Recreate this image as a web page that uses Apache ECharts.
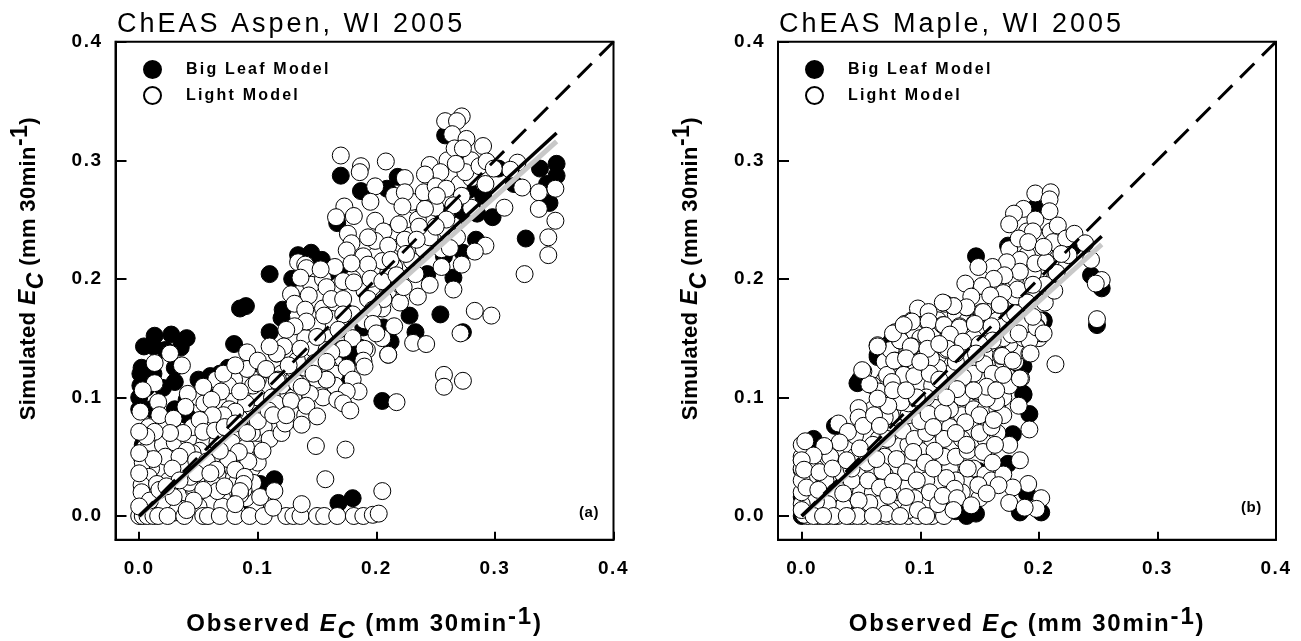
<!DOCTYPE html>
<html>
<head>
<meta charset="UTF-8">
<title>ChEAS Aspen and Maple, WI 2005</title>
<script src="https://cdn.jsdelivr.net/npm/echarts@6/dist/echarts.min.js"></script>
<style>
* { margin: 0; padding: 0; }
body { background: #fff; }
#main { width: 1301px; height: 641px; }
</style>
</head>
<body>
<div id="main"></div>
<script>
var tickValues = [0, 0.1, 0.2, 0.3, 0.4];
var seriesNames = ['Big Leaf Model', 'Light Model'];
var titleAspen = 'ChEAS Aspen, WI 2005';
var titleMaple = 'ChEAS Maple, WI 2005';

// 1:1 line and the two model fits, [observed, simulated]
var oneToOne = [[0, 0], [0.4, 0.4]];
var fitBigAspen = [[0, 0], [0.352, 0.323]];
var fitLightAspen = [[0, 0], [0.352, 0.316]];
var fitBigMaple = [[0, 0], [0.253, 0.236]];
var fitLightMaple = [[0, 0], [0.253, 0.229]];

// values
var bigLeafAspen = [[0,.09],[0,.1],[.001,.11],[.001,.12],[.002,.125],[.004,.143],[.012,.143],[.013,.152],[.027,.153],[.04,.15],[.022,.14],[.035,.142],[.03,.125],[.012,.12],[.006,.108],[.02,.108],[.03,.113],[.04,.098],[.05,.115],[.06,.118],[.068,.12],[.075,.125],[.08,.145],[.085,.175],[.09,.177],[.075,.09],[.06,.1],[.05,.08],[.01,.09],[.002,.07],[.002,.05],[.003,.06],[.03,.09],[.04,.085],
[.102,.027],[.114,.031],[.095,.01],[.168,.011],[.18,.015],[.205,.097],[.11,.204],[.17,.287],[.187,.274],[.209,.276],[.218,.286],[.167,.247],[.134,.22],[.145,.222],[.154,.216],[.129,.2],[.159,.205],[.172,.206],[.121,.174],[.12,.167],[.11,.155],[.254,.17],[.228,.169],[.233,.155],[.273,.155],[.212,.147],[.178,.134],[.169,.114],[.243,.204],[.265,.201],[.257,.219],[.273,.222],[.284,.233],[.298,.252],[.326,.234],[.346,.264],[.338,.293],[.352,.297],[.352,.287],[.344,.28],[.285,.255],[.273,.255],[.29,.27],[.278,.275],[.258,.321],[.273,.302],[.303,.293],[.316,.28],[.271,.277],[.256,.255],[.206,.159],[.189,.159],[.186,.142]];

var lightAspen = [[.01,.055],[.018,.04],[.03,.045],[.04,.04],[.045,.06],[.06,.05],[.07,.045],[.08,.045],[.09,.05],[.095,.04],[.075,.02],[.08,.015],[.07,.015],[.055,.015],[.04,.012],[.03,.02],[.02,.02],[.01,.015],[.006,.008],[.012,.006],[.02,.005],[.03,.003],[.005,.025],[.005,.035],[.005,.058],[.015,.065],[.025,.055],[.035,.06],[.048,.07],[.06,.068],[.07,.07],[.08,.07],[.07,.095],[.08,.1],[.09,.085],[.1,.07],[.105,.075],[.11,.065],[.125,.1],[.105,.11],[.09,.115],[.08,.115],[.065,.115],[.05,.1],[.12,.12],[.13,.115],[.14,.125],[.15,.13],[.16,.125],[.14,.15],[.15,.16],[.16,.15],[.17,.15],[.18,.15],[.155,.175],[.165,.18],[.18,.17],[.19,.165],[.145,.195],[.155,.2],[.165,.21],[.18,.2],[.19,.19],[.2,.19],[.21,.19],[.205,.175],[.215,.21],[.2,.22],[.22,.23],[.23,.24],[.24,.26],[.25,.26],[.255,.235],[.265,.245],[.27,.28],[.28,.3],
[.008,.058],[.02,.06],[.03,.062],[.042,.064],[.055,.062],[.066,.062],[.078,.062],[.09,.058],[.1,.045],[.006,.048],[.022,.05],[.038,.042],[.05,.04],[.056,.03],[.072,.038],[.078,.03],[.092,.046],[.096,.028],[.098,.01],[.09,.015],[.06,.01],[.07,.008],[.05,.008],[.03,.008],[.02,.012],[.012,.025],[.025,.03],[.01,.04],[.038,.02],[.046,.022],[.066,.035],[.052,.027],[.048,.03],[.045,.025],[.042,.028],[.082,.028],[.088,.022],[.085,.018],[.095,.07],[.1,.08],[.085,.082],[.076,.09],[.06,.078],[.045,.075],[.03,.072],[.02,.075],[.008,.075],[.1,.1],[.112,.1],[.12,.11],[.13,.1],[.09,.095],[.1,.115],[.055,.095],[.075,.11],[.12,.07],[.13,.085],[.115,.095],[.14,.085],[.155,.1],[.15,.115],[.165,.12],[.175,.125],[.18,.115],[.185,.105],[.165,.11],[.175,.105],[.205,.15],[.215,.16],[.22,.18],[.235,.185],[.245,.195],[.255,.21],[.24,.225],[.23,.215],[.21,.205],[.22,.195],[.205,.215],[.215,.24],[.225,.25],[.235,.25],[.245,.235],[.255,.225],[.26,.24],[.23,.265],[.28,.285],[.275,.29],[.215,.27],[.26,.3],[.28,.26],
[0,0],[.003,0],[.007,0],[.012,0],[.016,0],[.024,0],[.038,0],[.054,0],[.058,0],[.068,0],[.081,0],[.093,0],[.105,0],[.124,0],[.13,0],[.136,0],[.15,0],[.156,0],[.167,0],[.181,0],[.189,0],[.197,.001],[.202,.002],
[.026,.137],[.036,.127],[.013,.129],[.013,.112],[.003,.106],[.016,.096],[.001,.088],[.017,.085],[.029,.082],[.041,.103],[.054,.109],[.069,.105],[.061,.098],[.071,.12],[.091,.138],[.106,.124],[.091,.124],[.116,.137],[.081,.127],[.096,.11],[.085,.105],[.081,.088],[.071,.085],[.062,.085],[.051,.081],[.039,.092],[.037,.07],[.026,.07],[.013,.071],[.006,.067],[0,.071],[.054,.071],[.064,.072],[.072,.075],[.081,.078],[.091,.07],[.109,.089],[.117,.115],[.13,.124],[.138,.134],[.147,.141],[.158,.115],[.147,.123],[.133,.112],[.144,.103],[.128,.097],[.141,.093],[.167,.098],[.172,.095],[.178,.089],[.15,.084],[.137,.077],[.123,.078],[.113,.085],[.124,.085],[.171,.141],[.189,.13],[.192,.14],[.21,.136],[.217,.096],[.158,.14],[.133,.131],
[.104,.055],[.084,.054],[.075,.048],[.062,.051],[.051,.055],[.045,.053],[.04,.055],[.034,.05],[.048,.047],[.057,.046],[.068,.055],[.003,.045],[.012,.048],[0,.053],[.028,.04],[.008,.033],[.002,.026],[.002,.02],[.015,.027],[0,.036],[.043,.033],[.048,.036],[.081,.039],[.089,.033],[.088,.027],[.065,.039],[.062,.027],[.066,.021],[.054,.022],[.046,.013],[.034,.03],[.029,.016],[.04,.005],[.072,.025],[.085,.021],[.102,.016],[.114,.021],[.113,.007],[.081,.01],[.137,.01],[.009,.013],[0,.008],[.149,.059],[.174,.056],[.157,.031],[.205,.021],[.017,.022],[.023,.025],[.06,.036],
[.272,.337],[.258,.333],[.268,.333],[.264,.322],[.276,.318],[.266,.31],[.29,.312],[.273,.31],[.17,.304],[.187,.295],[.186,.29],[.208,.299],[.245,.296],[.254,.29],[.241,.288],[.267,.297],[.287,.295],[.319,.298],[.313,.292],[.293,.299],[.299,.293],[.224,.285],[.199,.278],[.224,.273],[.24,.273],[.25,.278],[.259,.276],[.292,.28],[.323,.277],[.337,.273],[.351,.276],[.195,.265],[.173,.261],[.166,.252],[.181,.253],[.222,.261],[.241,.259],[.251,.27],[.272,.27],[.265,.262],[.308,.26],[.337,.259],[.351,.249],[.199,.249],[.219,.246],[.236,.244],[.259,.25],[.25,.244],[.206,.24],[.176,.238],[.179,.23],[.199,.232],[.193,.235],[.21,.228],[.224,.233],[.234,.233],[.268,.235],[.262,.226],[.292,.228],[.283,.223],[.345,.235],[.345,.22],[.175,.224],[.189,.219],[.193,.212],[.179,.213],[.212,.216],[.225,.221],[.272,.212],[.134,.214],[.14,.212],[.141,.209],[.153,.208],[.136,.201],[.172,.198],[.181,.197],[.195,.2],[.205,.198],[.217,.203],[.233,.204],[.265,.191],[.325,.204],[.223,.193],[.158,.193],[.143,.186],[.128,.187],[.162,.183],[.172,.183],[.193,.183],[.206,.183],[.131,.179],[.14,.174],[.156,.169],[.172,.17],[.197,.174],[.283,.173],[.297,.169],[.271,.154],[.141,.164],[.131,.16],[.124,.157],[.15,.151],[.168,.157],[.197,.162],[.2,.154],[.19,.141],[.172,.141],[.122,.143],[.116,.137],[.11,.143],[.1,.131],[.107,.124],[.126,.127],[.136,.141],[.162,.138],[.21,.136],[.231,.146],[.242,.145],[.189,.131],[.19,.126],[.257,.119],[.273,.114],[.257,.109],[.148,.129],[.158,.13],[.158,.115],[.147,.12],[.137,.109],[.116,.114],[.099,.112]];

var bigLeafMaple = [[.147,.219],[.198,.259],[.174,.228],[.064,.134],[.074,.145],[.204,.165],[.187,.126],[.064,.136],[.049,.115],[.076,.148],[.204,.164],[.187,.103],[.184,.127],[.197,.26],[.244,.203],[.253,.192],[.249,.161],[.229,.227],[.047,.112],[.028,.076],[.01,.065],[.149,.038],[.174,.044],[.192,.086],[.187,.102],[.178,.069],[.147,.002],[.139,0],[.184,.003],[.202,.003],[.19,.019],[.159,.088],[0,0],[0,.039],[0,.016],[0,.047],[.12,.004],[.13,.004]];

var lightMaple = [[.03,.012],[.04,.02],[.05,.02],[.06,.02],[.07,.035],[.08,.02],[.09,.025],[.1,.04],[.105,.03],[.115,.045],[.125,.04],[.135,.02],[.145,.04],[.155,.035],[.16,.03],[.17,.035],[.11,.06],[.1,.055],[.09,.045],[.08,.06],[.07,.05],[.055,.055],[.045,.05],[.03,.05],[.02,.045],[.035,.035],[.05,.035],[.06,.04],[.08,.075],[.09,.085],[.075,.07],[.065,.065],[.105,.085],[.115,.08],[.125,.075],[.135,.065],[.145,.06],[.155,.065],[.135,.085],[.145,.09],[.155,.09],[.165,.09],[.17,.1],[.175,.11],[.15,.115],[.16,.125],[.17,.13],[.18,.13],[.185,.14],[.175,.145],[.165,.14],[.155,.135],[.14,.135],[.125,.13],[.115,.135],[.105,.125],[.095,.13],[.09,.115],[.1,.11],[.115,.105],[.125,.105],[.09,.095],[.075,.1],[.07,.115],[.06,.11],[.07,.13],[.075,.14],[.095,.155],[.11,.155],[.13,.17],[.14,.165],[.155,.155],[.165,.165],[.17,.18],[.18,.185],[.19,.195],[.2,.2],[.21,.215],[.16,.195],[.15,.19],[.175,.225],[.19,.24],[.2,.235],[.21,.24],[.215,.225],[.17,.205],[.18,.21],[.19,.22],[.2,.205],[.19,.165],[.17,.16],[.18,.155],[.2,.165],
[.005,0],[.014,0],[.022,0],[.03,0],[.042,0],[.052,0],[.065,0],[.072,0],[.078,0],[.09,0],[.098,0],[.11,0],[.12,0],
[.02,.03],[.028,.02],[.042,.03],[.012,.04],[.024,.05],[.042,.04],[.055,.045],[.068,.038],[.08,.048],[.09,.06],[.072,.065],[.06,.06],[.045,.068],[.085,.072],[.095,.065],[.105,.07],[.1,.08],[.12,.065],[.12,.05],[.13,.05],[.14,.04],[.15,.015],[.108,.02],[.115,.01],[.095,.015],[.09,.005],[.075,.005],[.065,.01],[.05,.005],[.035,.008],[.022,.01],[.012,.012],[.006,.015],[.005,.03],[.006,.045],[0,.01],[0,.02],[0,.03],[0,.04],[0,.05],[0,.06],[.13,.03],[.14,.055],[.15,.07],[.165,.07],[.125,.09],[.135,.1],[.11,.11],[.125,.12],[.14,.12],[.13,.13],[.115,.125],[.105,.1],[.075,.085],[.06,.09],[.065,.105],[.08,.115],[.1,.15],[.115,.165],[.13,.15],[.145,.15],[.16,.16],[.175,.17],[.15,.18],[.165,.195],[.18,.2],[.195,.205],[.205,.195],[.19,.18],[.205,.18],[.215,.205],[.225,.22],[.2,.15],[.155,.145],[.17,.15],[.145,.12],[.17,.085],[.175,.06],[.15,.085],[.16,.075],
[.052,.122],[.057,.111],[.185,.116],[.183,.093],[.192,.073],[.184,.047],[.191,.027],[.178,.024],[.175,.011],[.202,.015],[.198,.006],[.188,.007],[.048,.091],[.048,.083],[.031,.078],[.039,.071],[.052,.076],[.07,.083],[.061,.085],[.084,.096],[.073,.093],[.066,.076],[.097,.099],[.107,.086],[.119,.087],[.111,.075],[.138,.079],[.13,.07],[.162,.081],[.164,.096],[.147,.105],[.156,.099],[.139,.06],[.112,.055],[.094,.054],[.063,.048],[.049,.057],[.032,.062],[.019,.059],[.003,.063],[.01,.051],[0,.047],[.002,.039],[.015,.037],[.026,.04],[.038,.047],[.153,.054],[.163,.06],[.161,.045],[.104,.045],[.088,.037],[.122,.032],[.097,.03],[.056,.03],[.066,.024],[.077,.029],[.073,.017],[.088,.016],[.057,.011],[.048,.013],[.004,.024],[.014,.022],[.035,.019],[.129,.023],[.149,.026],[.166,.026],[.119,.017],[.131,.015],[.156,.019],[.098,.005],[.071,.002],[.047,0],[.027,0],[.002,.001],[0,.005],[.01,0],[.018,0],[.038,0],[.06,0],[.083,0],[.105,0],[.128,.005],[.143,.009],[.111,.04],
[.121,.179],[.128,.177],[.139,.176],[.152,.172],[.167,.178],[.107,.164],[.093,.165],[.079,.155],[.087,.162],[.119,.161],[.133,.16],[.146,.163],[.124,.153],[.083,.148],[.064,.144],[.106,.142],[.093,.143],[.122,.14],[.087,.133],[.079,.131],[.101,.129],[.109,.133],[.051,.123],[.072,.119],[.086,.119],[.095,.118],[.108,.12],[.076,.113],[.064,.099],[.077,.106],[.097,.1],[.088,.106],[.116,.115],[.184,.116],[.154,.128],[.168,.135],[.176,.131],[.192,.137],[.161,.12],[.17,.119],[.156,.109],[.164,.106],[.145,.106],[.136,.117],[.131,.107],[.122,.1],[.184,.16],[.198,.16],[.202,.154],[.187,.15],[.177,.153],[.192,.148],
[.197,.272],[.21,.273],[.209,.267],[.187,.259],[.179,.255],[.209,.257],[.197,.25],[.175,.246],[.216,.245],[.195,.24],[.183,.234],[.191,.231],[.205,.226],[.212,.231],[.223,.234],[.23,.238],[.239,.23],[.219,.221],[.184,.216],[.197,.213],[.184,.206],[.173,.214],[.161,.21],[.149,.21],[.206,.214],[.171,.203],[.162,.2],[.152,.194],[.138,.196],[.182,.191],[.17,.188],[.159,.186],[.143,.185],[.195,.195],[.167,.178],[.153,.172],[.139,.176],[.128,.177],[.119,.18],[.098,.175],[.107,.172],[.093,.164],[.107,.164],[.12,.161],[.133,.159],[.146,.162],[.083,.148],[.077,.154],[.086,.161],[.125,.153],[.105,.152],[.092,.143],[.106,.141],[.123,.141],[.136,.147],[.064,.143],[.078,.131],[.088,.133],[.1,.13],[.161,.148],[.169,.135],[.178,.131],[.193,.137],[.187,.161],[.198,.159],[.18,.171],[.195,.168],[.204,.154],[.183,.154],[.213,.19],[.15,.145],[.147,.137],[.13,.137],[.116,.145],[.244,.216],[.253,.199],[.248,.196],[.249,.166],[.214,.128],[.204,.227]];

// the file's text sets its own tracking, canvas has no option for it in ECharts
var tracking = { '27': 3, '19': 1.5, '16': 2.2, '15': 0.6, '24': 1.8, '22': 0.4, '23': 0.4 };
['fillText', 'strokeText', 'measureText'].forEach(function (fn) {
    var orig = CanvasRenderingContext2D.prototype[fn];
    CanvasRenderingContext2D.prototype[fn] = function () {
        var m = /(\d+(\.\d+)?)px/.exec(this.font);
        this.letterSpacing = ((m && tracking[m[1]]) || 0) + 'px';
        return orig.apply(this, arguments);
    };
});

var fontName = '"Liberation Sans", Arial, sans-serif';

function nameRich(size) {
    return {
        e: { fontSize: size, fontStyle: 'italic', fontWeight: 'bold', fontFamily: fontName, color: '#000' },
        c: { fontSize: size, fontStyle: 'italic', fontWeight: 'bold', fontFamily: fontName, color: '#000', lineHeight: 30, verticalAlign: 'bottom' },
        s: { fontSize: size, fontWeight: 'bold', fontFamily: fontName, color: '#000', lineHeight: 22, verticalAlign: 'top' }
    };
}

function makeXAxis(i) {
    return {
        type: 'value', gridIndex: i, min: -0.02, max: 0.4,
        name: 'Observed {e|E}{c|C} (mm 30min{s|-1})',
        nameLocation: 'middle', nameGap: 65,
        nameTextStyle: { fontFamily: fontName, fontWeight: 'bold', fontSize: 24, color: '#000', lineHeight: 40, rich: nameRich(24) },
        splitLine: { show: false },
        axisLine: { onZero: false, lineStyle: { color: '#000', width: 2 } },
        axisTick: { inside: true, length: 8, lineStyle: { color: '#000', width: 2 }, customValues: tickValues },
        axisLabel: { margin: 19, fontFamily: fontName, fontWeight: 'bold', fontSize: 19, color: '#000', customValues: tickValues, formatter: function (v) { return v.toFixed(1); } }
    };
}

function makeYAxis(i) {
    return {
        type: 'value', gridIndex: i, min: -0.02, max: 0.4,
        name: 'Simulated {e|E}{c|C} (mm 30min{s|-1})',
        nameLocation: 'middle', nameGap: 67, nameRotate: 90,
        nameTextStyle: { fontFamily: fontName, fontWeight: 'bold', fontSize: 22, color: '#000', lineHeight: 40, padding: [0, 0, 0, 44], rich: nameRich(23) },
        splitLine: { show: false },
        axisLine: { onZero: false, lineStyle: { color: '#000', width: 2 } },
        axisTick: { inside: true, length: 11, lineStyle: { color: '#000', width: 2 }, customValues: tickValues },
        axisLabel: { margin: 13, fontFamily: fontName, fontWeight: 'bold', fontSize: 19, color: '#000', customValues: tickValues, formatter: function (v) { return v.toFixed(1); } }
    };
}

function makeDots(i, name, data, fill) {
    return {
        type: 'scatter', name: name, xAxisIndex: i, yAxisIndex: i, data: data,
        symbol: 'circle', symbolSize: 17, clip: false, progressive: 0, z: 2,
        itemStyle: { color: fill, opacity: 1, borderColor: '#000', borderWidth: 1 }
    };
}

function makeLine(i, name, data, color, width, dash) {
    return {
        type: 'line', name: name, xAxisIndex: i, yAxisIndex: i, data: data,
        showSymbol: false, symbol: 'none', silent: true, z: 3, clip: false,
        lineStyle: { color: color, width: width, type: dash || 'solid', cap: 'butt' }
    };
}

function makeLegend(left) {
    return {
        left: left, top: 55, orient: 'vertical', data: seriesNames, selectedMode: false,
        icon: 'circle', itemWidth: 17, itemHeight: 17, itemGap: 7,
        textStyle: { fontFamily: fontName, fontWeight: 'bold', fontSize: 16, color: '#000', padding: [0, 0, 0, 20] }
    };
}

function makeTitle(text, left, top, size, weight) {
    return { text: text, left: left, top: top, padding: 0, textStyle: { fontFamily: fontName, fontSize: size, fontWeight: weight, color: '#000' } };
}

var chart = echarts.init(document.getElementById('main'), null, { renderer: 'canvas' });
chart.setOption({
    animation: false,
    backgroundColor: '#fff',
    title: [
        makeTitle(titleAspen, 117, 10, 27, 'normal'),
        makeTitle(titleMaple, 779, 10, 27, 'normal'),
        makeTitle('(a)', 579, 505, 15, 'bold'),
        makeTitle('(b)', 1241, 500, 15, 'bold')
    ],
    legend: [makeLegend(138), makeLegend(800)],
    grid: [
        { left: 115.5, top: 41.7, width: 498, height: 498, outerBoundsMode: 'none', show: true, borderColor: '#000', borderWidth: 2, backgroundColor: 'transparent' },
        { left: 778, top: 41.7, width: 498, height: 498, outerBoundsMode: 'none', show: true, borderColor: '#000', borderWidth: 2, backgroundColor: 'transparent' }
    ],
    xAxis: [makeXAxis(0), makeXAxis(1)],
    yAxis: [makeYAxis(0), makeYAxis(1)],
    series: [
        makeDots(0, seriesNames[0], bigLeafAspen, '#000'),
        makeDots(0, seriesNames[1], lightAspen, '#fff'),
        makeLine(0, 'Light fit', fitLightAspen, '#c8c8c8', 5),
        makeLine(0, 'Big Leaf fit', fitBigAspen, '#000', 3.5),
        makeLine(0, '1:1', oneToOne, '#000', 3, [20, 11]),
        makeDots(1, seriesNames[0], bigLeafMaple, '#000'),
        makeDots(1, seriesNames[1], lightMaple, '#fff'),
        makeLine(1, 'Light fit', fitLightMaple, '#c8c8c8', 5),
        makeLine(1, 'Big Leaf fit', fitBigMaple, '#000', 3.5),
        makeLine(1, '1:1', oneToOne, '#000', 3, [20, 11])
    ]
});
</script>
</body>
</html>
